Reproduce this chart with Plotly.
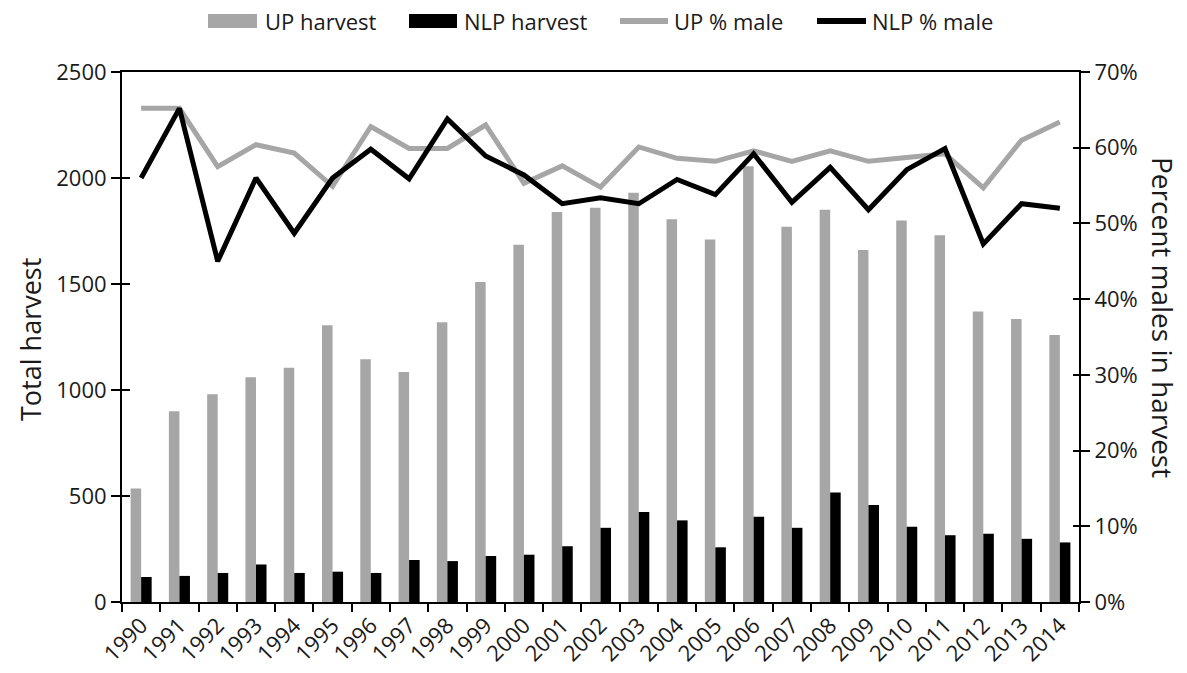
import plotly.graph_objects as go

years = [str(y) for y in range(1990, 2015)]
up_harvest = [535, 900, 980, 1060, 1105, 1305, 1145, 1085, 1320, 1510, 1685, 1840, 1860,
              1930, 1805, 1710, 2055, 1770, 1850, 1660, 1800, 1730, 1370, 1335, 1260]
nlp_harvest = [118, 123, 137, 177, 137, 143, 137, 198, 193, 217, 223, 263, 350,
               424, 385, 258, 402, 350, 516, 458, 355, 315, 322, 298, 281]
up_pct_male = [65.2, 65.2, 57.5, 60.4, 59.3, 54.9, 62.8, 59.9, 59.9, 63.0, 55.3, 57.6, 54.8,
               60.1, 58.6, 58.2, 59.6, 58.2, 59.6, 58.2, 58.7, 59.2, 54.7, 61.0, 63.4]
nlp_pct_male = [56.0, 65.2, 45.0, 56.0, 48.7, 56.0, 59.8, 55.9, 63.8, 58.9, 56.4, 52.6, 53.4,
                52.6, 55.8, 53.8, 59.2, 52.8, 57.4, 51.8, 57.1, 59.9, 47.3, 52.6, 52.0]
series_names = ["UP harvest", "NLP harvest", "UP % male", "NLP % male"]

GREY = "#a6a6a6"
TXT = "#1a1a1a"
FONT = "Open Sans"
TICKFONT = dict(family=FONT, size=22, color=TXT)

# plot area in pixels
L, R, T, B = 122, 1079, 72, 602
W, H = R - L, B - T


def px(x):
    return (x - L) / W


def py(y):
    return (B - y) / H


fig = go.Figure()
fig.add_trace(go.Bar(x=years, y=up_harvest, name=series_names[0],
                     marker=dict(color=GREY, line=dict(width=0))))
fig.add_trace(go.Bar(x=years, y=nlp_harvest, name=series_names[1],
                     marker=dict(color="#000000", line=dict(width=0))))
fig.add_trace(go.Scatter(x=years, y=up_pct_male, name=series_names[2], yaxis="y2",
                         mode="lines", line=dict(color=GREY, width=5)))
fig.add_trace(go.Scatter(x=years, y=nlp_pct_male, name=series_names[3], yaxis="y2",
                         mode="lines", line=dict(color="#000000", width=5)))
# invisible helpers to activate inside-tick overlay axes
fig.add_trace(go.Scatter(x=[years[0]], y=[0], yaxis="y3", mode="lines",
                         showlegend=False, hoverinfo="skip", line=dict(width=0)))
fig.add_trace(go.Scatter(x=[years[0]], y=[0], yaxis="y4", mode="lines",
                         showlegend=False, hoverinfo="skip", line=dict(width=0)))

# custom legend (symbols + labels)
shapes = []
annotations = []
legend_items = [
    ("box", GREY, 208, 257, 263, series_names[0]),
    ("box", "#000000", 409, 457, 462, series_names[1]),
    ("line", GREY, 620, 668, 672, series_names[2]),
    ("line", "#000000", 817, 866, 870, series_names[3]),
]
for kind, col, x0, x1, xt, label in legend_items:
    if kind == "box":
        shapes.append(dict(type="rect", xref="paper", yref="paper",
                           x0=px(x0), x1=px(x1), y0=py(28), y1=py(14),
                           fillcolor=col, line=dict(width=0)))
    else:
        shapes.append(dict(type="line", xref="paper", yref="paper",
                           x0=px(x0), x1=px(x1), y0=py(21), y1=py(21),
                           line=dict(color=col, width=6)))
    annotations.append(dict(text=label, xref="paper", yref="paper", x=px(xt), y=py(21),
                            xanchor="left", yanchor="middle", showarrow=False,
                            font=dict(family=FONT, size=22, color=TXT)))

annotations.append(dict(text="Total harvest", xref="paper", yref="paper",
                        x=px(30), y=py(340), xanchor="center", yanchor="middle",
                        textangle=-90, showarrow=False,
                        font=dict(family=FONT, size=27, color=TXT)))
annotations.append(dict(text="Percent males in harvest", xref="paper", yref="paper",
                        x=px(1163), y=py(317), xanchor="center", yanchor="middle",
                        textangle=90, showarrow=False,
                        font=dict(family=FONT, size=28, color=TXT)))

fig.update_layout(
    width=1187, height=673,
    margin=dict(l=L, r=1187 - R, t=T, b=673 - B, autoexpand=False),
    plot_bgcolor="white", paper_bgcolor="white",
    barmode="group", bargap=0.45, bargroupgap=0,
    showlegend=False,
    xaxis=dict(type="category", categoryorder="array", categoryarray=years,
               range=[-0.5, len(years) - 0.5],
               showline=True, linecolor="black", linewidth=2, mirror=True,
               ticks="outside", ticklen=8, tickwidth=2, tickcolor="black",
               tickson="boundaries", tickangle=-45, tickfont=TICKFONT,
               showgrid=False, zeroline=False, automargin=False),
    yaxis=dict(range=[0, 2500], dtick=500, showline=True, linecolor="black", linewidth=2,
               ticks="outside", ticklen=9, tickwidth=2, tickcolor="black",
               tickfont=TICKFONT, showgrid=False, zeroline=False, automargin=False),
    yaxis2=dict(range=[0, 70], dtick=10, ticksuffix="%", overlaying="y", side="right",
                showline=True, linecolor="black", linewidth=2,
                ticks="outside", ticklen=9, tickwidth=2, tickcolor="black",
                tickfont=TICKFONT, showgrid=False, zeroline=False, automargin=False),
    yaxis3=dict(range=[0, 2500], dtick=500, overlaying="y", side="left",
                ticks="inside", ticklen=8, tickwidth=2, tickcolor="black",
                showticklabels=False, showgrid=False, zeroline=False, showline=False,
                automargin=False),
    yaxis4=dict(range=[0, 70], dtick=10, overlaying="y", side="right",
                ticks="inside", ticklen=6, tickwidth=2, tickcolor="black",
                showticklabels=False, showgrid=False, zeroline=False, showline=False,
                automargin=False),
    shapes=shapes,
    annotations=annotations,
)

fig.write_html("out.html", config={"displayModeBar": False},
               post_script="document.body.style.margin='0';")
